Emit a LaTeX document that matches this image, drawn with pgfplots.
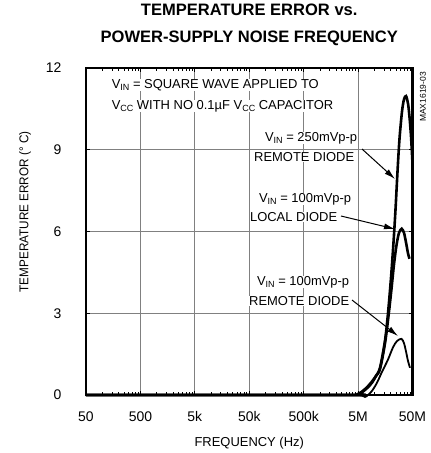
\documentclass[border=0pt]{standalone}
\usepackage{pgfplots}
\pgfplotsset{compat=1.18}
\usepackage{fontspec}
\setmainfont{Liberation Sans}
\newfontfamily\condfont{Liberation Sans}[FakeStretch=0.92]
\usetikzlibrary{arrows.meta}
\newcommand\sub[1]{\raisebox{-0.35ex}{\fontsize{9}{9}\selectfont #1}}
\newcommand\ann{\fontsize{13}{13}\selectfont}

\begin{document}
\begin{tikzpicture}
\useasboundingbox (-86bp,-58bp) rectangle (345bp,395bp);
\begin{axis}[
  at={(0,0)}, anchor=south west,
  scale only axis, width=326.5bp, height=327bp,
  xmode=log, xmin=50, xmax=5e7, ymin=0, ymax=12,
  xtick={50,500,5000,50000,500000,5000000,50000000},
  xticklabels={50,500,5k,50k,500k,5M,50M},
  ytick={0,3,6,9,12},
  minor xtick={},
  grid=major,
  major grid style={black!50, line width=1bp},
  axis line style={line width=2.6bp},
  tick style={black, line width=0.8bp},
  major tick length=4bp,
  tick align=inside,
  /pgf/number format/assume math mode=true,
  xticklabel style={font=\fontsize{14}{14}\selectfont, yshift=-13bp},
  yticklabel style={font=\fontsize{14}{14}\selectfont, xshift=-21bp},
  xlabel={FREQUENCY (Hz)},
  ylabel={TEMPERATURE ERROR (° C)},
  xlabel style={font=\fontsize{13}{13}\selectfont, at={(axis description cs:0.5,-0.1468)}, anchor=center},
  ylabel style={font=\condfont\fontsize{12.8}{13}\selectfont, at={(axis description cs:-0.1868,0.56)}, anchor=center},
  title={TEMPERATURE ERROR vs.\\POWER-SUPPLY NOISE FREQUENCY},
  title style={at={(axis description cs:0.5,1.1147)}, anchor=center, align=center, font=\bfseries\fontsize{16.6}{27}\selectfont},
  clip=false,
]
% V_IN = 100mVp-p, remote diode
\addplot[black, line width=1.8bp, smooth, tension=0.5] coordinates {
(50,0) (3.0e6,0) (5.424e6,0) (6.701e6,-0.07) (7.606e6,0) (9.010e6,0.15)
(1.113e7,0.45) (1.375e7,0.85) (1.773e7,1.3) (2.191e7,1.75) (2.595e7,1.98)
(3.140e7,2.06) (3.489e7,1.9) (3.798e7,1.6) (4.133e7,1.25) (4.498e7,1.0)
};
% V_IN = 100mVp-p, local diode
\addplot[black, line width=2.6bp, smooth, tension=0.5] coordinates {
(50,0) (3.0e6,0) (4.776e6,0.02) (5.658e6,0.1) (6.991e6,0.25) (8.636e6,0.45)
(1.067e7,0.7) (1.264e7,0.95) (1.562e7,1.9) (1.811e7,2.9) (2.056e7,3.9)
(2.286e7,4.8) (2.541e7,5.5) (2.824e7,5.95) (3.166e7,6.1) (3.489e7,5.95)
(3.798e7,5.6) (4.133e7,5.2) (4.404e7,5.0)
};
% V_IN = 250mVp-p, remote diode
\addplot[black, line width=2.6bp, smooth, tension=0.5] coordinates {
(50,0) (3.0e6,0) (4.982e6,0.02) (5.902e6,0.1) (7.294e6,0.25) (9.010e6,0.45)
(1.067e7,0.7) (1.264e7,1.0) (1.562e7,2.0) (1.773e7,3.0) (2.013e7,4.3)
(2.238e7,5.6) (2.435e7,6.8) (2.651e7,8.2) (2.884e7,9.4) (3.206e7,10.4)
(3.489e7,10.85) (3.798e7,10.97) (4.133e7,10.7) (4.404e7,10.2) (4.693e7,9.5)
(5.0e7,8.5)
};
\end{axis}
\begin{scope}[every node/.style={fill=white, inner sep=0.6bp, font=\ann}]
\node[anchor=west] at (25bp,310bp) {V\sub{IN} = SQUARE WAVE APPLIED TO};
\node[anchor=west] at (25bp,289bp) {V\sub{CC} WITH NO 0.1µF V\sub{CC} CAPACITOR};
\node[anchor=east] at (272bp,257bp) {V\sub{IN} = 250mVp-p};
\node[anchor=east] at (269bp,238bp) {REMOTE DIODE};
\node[anchor=east] at (266bp,196bp) {V\sub{IN} = 100mVp-p};
\node[anchor=east] at (252bp,178bp) {LOCAL DIODE};
\node[anchor=east] at (264bp,113bp) {V\sub{IN} = 100mVp-p};
\node[anchor=east] at (264bp,94bp) {REMOTE DIODE};
\end{scope}
\draw[line width=1bp, -{Latex[length=11bp,width=6bp]}] (276bp,246bp) -- (309bp,216bp);
\draw[line width=1bp, -{Latex[length=11bp,width=6bp]}] (255bp,179bp) -- (309bp,166bp);
\draw[line width=1bp, -{Latex[length=11bp,width=6bp]}] (266bp,95bp) -- (312bp,59bp);
\node[rotate=90, font=\fontsize{8.5}{8.5}\selectfont, inner sep=0pt] at (337bp,298bp) {MAX1619-03};
\end{tikzpicture}
\end{document}
